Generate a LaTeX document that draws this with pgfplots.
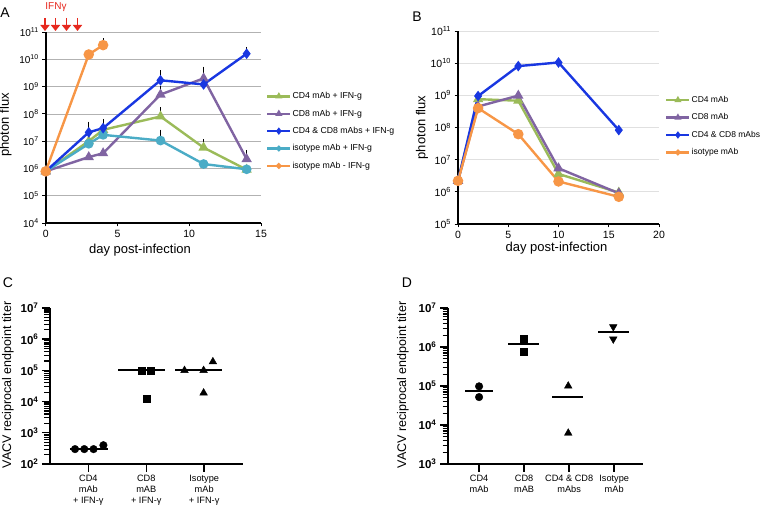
\documentclass[border=0pt]{standalone}
\usepackage{fontspec}
\setmainfont{Liberation Sans}
\usepackage{pgfplots}
\pgfplotsset{compat=1.18}
\usetikzlibrary{arrows.meta}

\definecolor{cGreen}{RGB}{155,187,89}
\definecolor{cPurple}{RGB}{128,100,162}
\definecolor{cBlue}{RGB}{25,55,225}
\definecolor{cCyan}{RGB}{75,172,198}
\definecolor{cOrange}{RGB}{247,150,70}
\definecolor{cRed}{RGB}{230,40,30}

\newcommand{\labfont}{\fontsize{13}{15}\selectfont}
\newcommand{\titfont}{\fontsize{12.5}{15}\selectfont}

\pgfplotsset{
  lineplot/.style={
    scale only axis, anchor=south west,
    axis x line*=bottom, axis y line*=left,
    axis line style={line width=2.2pt},
    tick align=outside, major tick length=3.5pt,
    tick style={black, line width=0.9pt},
    yminorticks=false,
    /pgf/number format/assume math mode=true,
    ticklabel style={font=\fontsize{10.5}{12}\selectfont},
    clip=false,
    legend cell align=left,
    legend image code/.code={\draw[mark repeat=2,mark phase=2,#1] plot coordinates {(0pt,0pt) (11.5pt,0pt) (23pt,0pt)};},
  },
  dotplot/.style={
    scale only axis, anchor=south west,
    axis x line*=bottom, axis y line*=left,
    axis line style={line width=2.6pt},
    tick align=outside, major tick length=8pt,
    tick style={black, line width=1.4pt},
    yminorticks=false,
    extra y tick labels={},
    extra y tick style={major tick length=5.5pt, tick style={black, line width=1.1pt}},
    /pgf/number format/assume math mode=true,
    yticklabel style={font=\fontsize{11.5}{13}\selectfont\bfseries},
    xticklabel style={font=\fontsize{9.2}{11}\selectfont, align=center},
    clip=false,
  },
  sA/.style={line width=2.4pt, mark size=3.6pt},
}

\begin{document}
\begin{tikzpicture}
\useasboundingbox (0pt,0pt) rectangle (760pt,508pt);

% panel letters
\node[font=\fontsize{14}{16}\selectfont] at (5pt,495pt) {A};
\node[font=\fontsize{14}{16}\selectfont] at (417pt,491pt) {B};
\node[font=\fontsize{14}{16}\selectfont] at (8pt,225pt) {C};
\node[font=\fontsize{14}{16}\selectfont] at (407pt,225pt) {D};

% ---------------- A ----------------
\begin{axis}[lineplot,
  at={(45.7pt,285pt)}, width=215.3pt, height=191pt,
  xmin=0, xmax=15, ymode=log, ymin=1e4, ymax=1e11,
  xtick={0,5,10,15},
  ytick={1e4,1e5,1e6,1e7,1e8,1e9,1e10,1e11},
  yticklabels={10\textsuperscript{4},10\textsuperscript{5},10\textsuperscript{6},10\textsuperscript{7},10\textsuperscript{8},10\textsuperscript{9},10\textsuperscript{10},10\textsuperscript{11}},
  yticklabel style={font=\fontsize{10}{11}\selectfont},
  ymajorgrids, grid style={black!30, line width=0.7pt},
  xlabel={day post-infection}, ylabel={photon flux},
  every axis x label/.style={at={(axis description cs:0.438,-0.141)}, anchor=center, font=\labfont},
  every axis y label/.style={at={(axis description cs:-0.187,0.513)}, rotate=90, anchor=center, font=\labfont},
  legend style={draw=none, fill=none, at={(axis description cs:1.023,0.69)}, anchor=north west,
    font=\fontsize{8.7}{10}\selectfont, row sep=7.6pt, inner sep=0pt,
    nodes={inner sep=1pt}},
]
% error bars (upper only)
\addplot[black, only marks, mark=none, forget plot,
  error bars/.cd, y dir=plus, y explicit,
  error bar style={line width=0.7pt},
  error mark options={line width=0.9pt, mark size=3.5pt}]
  coordinates {
  (3,2.1e7) +- (0,1.8e7)
  (4,3e7) +- (0,1.9e7)
  (8,1.7e9) +- (0,1.2e9)
  (14,1.6e10) +- (0,5e9)
  (8,5.1e8) +- (0,2.8e8)
  (11,2e9) +- (0,2e9)
  (14,2.2e6) +- (0,1.2e6)
  (8,8e7) +- (0,5e7)
  (11,5.8e6) +- (0,3.1e6)
  (3,8e6) +- (0,4.6e6)
  (8,1.05e7) +- (0,9e6)
  (4,3.3e10) +- (0,1.1e10)
  };
% CD4 mAb + IFN-g
\addplot[sA, cGreen, mark=triangle*, forget plot] coordinates {
  (0,7.8e5) (3,1e7) (4,2.6e7) (8,8e7) (11,5.8e6) (14,9e5)};
% CD8 mAb + IFN-g
\addplot[sA, cPurple, mark=triangle*, forget plot] coordinates {
  (0,7.8e5) (3,2.6e6) (4,3.6e6) (8,5.1e8) (11,2e9) (14,2.2e6)};
% isotype mAb + IFN-g
\addplot[sA, cCyan, mark=*, forget plot] coordinates {
  (0,7.8e5) (3,8e6) (4,1.7e7) (8,1.05e7) (11,1.45e6) (14,9.3e5)};
% CD4 & CD8 mAbs + IFN-g
\addplot[sA, cBlue, mark=diamond*, mark size=3.4pt, forget plot] coordinates {
  (0,7.8e5) (3,2.1e7) (4,3e7) (8,1.7e9) (11,1.2e9) (14,1.6e10)};
% isotype mAb - IFN-g
\addplot[sA, cOrange, mark=*, mark size=4pt, forget plot] coordinates {
  (0,7.8e5) (3,1.5e10) (4,3.3e10)};

\addlegendimage{cGreen, line width=2.4pt, mark=triangle*, mark size=1.8pt}
\addlegendentry{CD4 mAb + IFN-g}
\addlegendimage{cPurple, line width=2.4pt, mark=triangle*, mark size=1.8pt}
\addlegendentry{CD8 mAb + IFN-g}
\addlegendimage{cBlue, line width=2.4pt, mark=diamond*, mark size=1.8pt}
\addlegendentry{CD4 \& CD8 mAbs + IFN-g}
\addlegendimage{cCyan, line width=2.4pt, mark=*, mark size=1.6pt}
\addlegendentry{isotype mAb + IFN-g}
\addlegendimage{cOrange, line width=2.4pt, mark=*, mark size=1.6pt}
\addlegendentry{isotype mAb - IFN-g}
\end{axis}

% IFN-gamma injections
\node[text=cRed, font=\fontsize{10}{11}\selectfont] at (56pt,501pt) {IFNγ};
\foreach \xa in {45,55.5,66.5,77.5}
  \draw[cRed, line width=1.8pt, -{Triangle[length=6pt,width=9pt]}] (\xa pt,490pt) -- (\xa pt,477pt);

% ---------------- B ----------------
\begin{axis}[lineplot,
  at={(458pt,284pt)}, width=201pt, height=193pt,
  xmin=0, xmax=20, ymode=log, ymin=1e5, ymax=1e11,
  xtick={0,5,10,15,20},
  ytick={1e5,1e6,1e7,1e8,1e9,1e10,1e11},
  yticklabels={10\textsuperscript{5},10\textsuperscript{6},10\textsuperscript{7},10\textsuperscript{8},10\textsuperscript{9},10\textsuperscript{10},10\textsuperscript{11}},
  ymajorgrids, grid style={black!12, line width=0.7pt},
  xlabel={day post-infection}, ylabel={photon flux},
  every axis x label/.style={at={(axis description cs:0.49,-0.124)}, anchor=center, font=\labfont},
  every axis y label/.style={at={(axis description cs:-0.179,0.5)}, rotate=90, anchor=center, font=\labfont},
  legend style={draw=none, fill=none, at={(axis description cs:1.03,0.668)}, anchor=north west,
    font=\fontsize{8.5}{10}\selectfont, row sep=7.8pt, inner sep=0pt,
    nodes={inner sep=1pt}},
]
% CD4 mAb
\addplot[sA, cGreen, mark=triangle*, forget plot] coordinates {
  (0,2.2e6) (2,7.6e8) (6,6.8e8) (10,3.6e6) (16,9.5e5)};
% CD8 mAb
\addplot[sA, cPurple, mark=triangle*, forget plot] coordinates {
  (0,2.2e6) (2,4.5e8) (6,9.8e8) (10,5.4e6) (16,9e5)};
% CD4 & CD8 mAbs
\addplot[sA, cBlue, mark=diamond*, mark size=3.4pt, forget plot] coordinates {
  (0,2.2e6) (2,9.5e8) (6,8.1e9) (10,1.05e10) (16,8.3e7)};
% isotype mAb
\addplot[sA, cOrange, mark=*, mark size=4pt, forget plot] coordinates {
  (0,2.2e6) (2,4e8) (6,6.2e7) (10,2.1e6) (16,7e5)};

\addlegendimage{cGreen, line width=2.4pt, mark=triangle*, mark size=1.8pt}
\addlegendentry{CD4 mAb}
\addlegendimage{cPurple, line width=2.4pt, mark=triangle*, mark size=1.8pt}
\addlegendentry{CD8 mAb}
\addlegendimage{cBlue, line width=2.4pt, mark=diamond*, mark size=1.8pt}
\addlegendentry{CD4 \& CD8 mAbs}
\addlegendimage{cOrange, line width=2.4pt, mark=*, mark size=1.6pt}
\addlegendentry{isotype mAb}
\end{axis}

% ---------------- C ----------------
\begin{axis}[dotplot,
  at={(50pt,44pt)}, width=193pt, height=156pt,
  ymode=log, ymin=1e2, ymax=1e7,
  xmin=0.338, xmax=3.67,
  xtick={1,2,3},
  xticklabels={{CD4\\mAb\\+ IFN-γ},{CD8\\mAB\\+ IFN-γ},{Isotype\\mAb\\+ IFN-γ}},
  ytick={1e2,1e3,1e4,1e5,1e6,1e7},
  extra y ticks={2e2,3e2,4e2,5e2,6e2,7e2,8e2,9e2,2e3,3e3,4e3,5e3,6e3,7e3,8e3,9e3,2e4,3e4,4e4,5e4,6e4,7e4,8e4,9e4,2e5,3e5,4e5,5e5,6e5,7e5,8e5,9e5,2e6,3e6,4e6,5e6,6e6,7e6,8e6,9e6},
  yticklabels={10\textsuperscript{2},10\textsuperscript{3},10\textsuperscript{4},10\textsuperscript{5},10\textsuperscript{6},10\textsuperscript{7}},
  ylabel={VACV reciprocal endpoint titer},
  every axis y label/.style={at={(axis description cs:-0.218,0.506)}, rotate=90, anchor=center, font=\titfont},
]
\addplot[black, only marks, mark=*, mark size=3.8pt] coordinates {
  (0.77,300) (0.93,300) (1.09,300) (1.26,400)};
\addplot[black, only marks, mark=square*, mark size=3.5pt] coordinates {
  (1.92,1e5) (2.08,1e5) (2.0,1.26e4)};
\addplot[black, only marks, mark=triangle*, mark size=4.4pt] coordinates {
  (2.66,1e5) (2.99,1e5) (3.15,1.9e5) (2.99,1.9e4)};
% medians
\addplot[black, line width=2pt] coordinates {(0.68,300) (1.34,300)};
\addplot[black, line width=2pt] coordinates {(1.52,1e5) (2.33,1e5)};
\addplot[black, line width=2pt] coordinates {(2.5,1e5) (3.31,1e5)};
\end{axis}

% ---------------- D ----------------
\begin{axis}[dotplot,
  at={(448pt,44pt)}, width=195pt, height=156pt,
  ymode=log, ymin=1e3, ymax=1e7,
  xmin=0.31, xmax=4.64,
  xtick={1,2,3,4},
  xticklabels={{CD4\\mAb},{CD8\\mAB},{CD4 \& CD8\\mAbs},{Isotype\\mAb}},
  ytick={1e3,1e4,1e5,1e6,1e7},
  extra y ticks={2e3,3e3,4e3,5e3,6e3,7e3,8e3,9e3,2e4,3e4,4e4,5e4,6e4,7e4,8e4,9e4,2e5,3e5,4e5,5e5,6e5,7e5,8e5,9e5,2e6,3e6,4e6,5e6,6e6,7e6,8e6,9e6},
  yticklabels={10\textsuperscript{3},10\textsuperscript{4},10\textsuperscript{5},10\textsuperscript{6},10\textsuperscript{7}},
  ylabel={VACV reciprocal endpoint titer},
  every axis y label/.style={at={(axis description cs:-0.231,0.506)}, rotate=90, anchor=center, font=\titfont},
]
\addplot[black, only marks, mark=*, mark size=3.8pt] coordinates {
  (1,9.8e4) (1,5.2e4)};
\addplot[black, only marks, mark=square*, mark size=3.5pt] coordinates {
  (1.98,1.6e6) (1.98,7.8e5)};
\addplot[black, only marks, mark=triangle*, mark size=4.4pt] coordinates {
  (2.98,1e5) (2.98,6.2e3)};
\addplot[black, only marks, mark=triangle*, mark size=4.4pt, mark options={rotate=180}] coordinates {
  (3.98,3.3e6) (3.98,1.6e6)};
% medians
\addplot[black, line width=2pt] coordinates {(0.69,7.6e4) (1.32,7.6e4)};
\addplot[black, line width=2pt] coordinates {(1.65,1.18e6) (2.32,1.18e6)};
\addplot[black, line width=2pt] coordinates {(2.62,5.3e4) (3.3,5.3e4)};
\addplot[black, line width=2pt] coordinates {(3.65,2.4e6) (4.32,2.4e6)};
\end{axis}
\end{tikzpicture}
\end{document}
